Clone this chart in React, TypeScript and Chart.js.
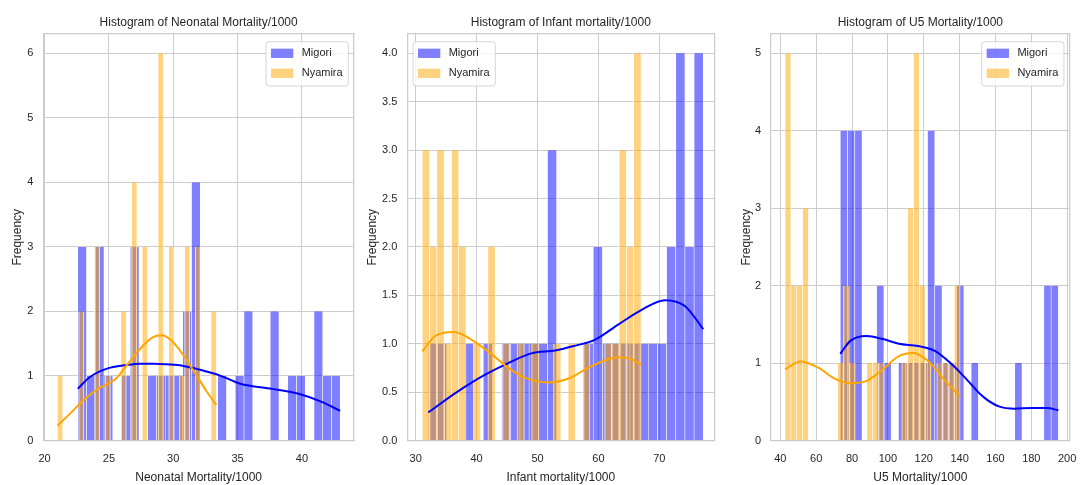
import React, { useEffect, useRef } from 'react';
import { Chart, registerables } from 'chart.js';

Chart.register(...registerables);

// ---------------- data ----------------
const seriesNames = ['Migori', 'Nyamira'];
const yAxisLabel = 'Frequency';

// Panel 1: Neonatal mortality
const neoTitle = 'Histogram of Neonatal Mortality/1000';
const neoXLabel = 'Neonatal Mortality/1000';
const neoXTicks = [20, 25, 30, 35, 40];
const neoYTicks = [0, 1, 2, 3, 4, 5, 6];
const neoMigoriRange = [22.58, 42.98];
const neoMigoriCounts = [3, 1, 3, 1, 0, 1, 3, 0, 1, 1, 1, 1, 2, 4, 0, 0, 1, 0, 1, 2, 0, 0, 2, 0, 1, 1, 0, 2, 1, 1];
const neoNyamiraRange = [21.0, 33.35];
const neoNyamiraCounts = [1, 0, 0, 0, 2, 0, 0, 3, 0, 1, 0, 0, 2, 0, 4, 0, 3, 0, 0, 6, 0, 3, 0, 1, 3, 0, 3, 0, 0, 2];
const neoMigoriKdeX = [22.58, 23.5, 24.8, 26.4, 27.4, 28.5, 29.5, 30.7, 31.8, 33.6, 35.2, 37.7, 39.8, 41.4, 42.98];
const neoMigoriKdeY = [0.8, 0.98, 1.11, 1.17, 1.19, 1.19, 1.18, 1.16, 1.11, 1.01, 0.88, 0.8, 0.72, 0.61, 0.46];
const neoNyamiraKdeX = [21.0, 22.0, 23.0, 24.06, 25.6, 26.4, 27.7, 28.4, 29.1, 29.8, 30.8, 31.8, 32.6, 33.35];
const neoNyamiraKdeY = [0.23, 0.42, 0.62, 0.79, 0.97, 1.17, 1.48, 1.6, 1.63, 1.56, 1.32, 1.01, 0.76, 0.55];

// Panel 2: Infant mortality
const infTitle = 'Histogram of Infant mortality/1000';
const infXLabel = 'Infant mortality/1000';
const infXTicks = [30, 40, 50, 60, 70];
const infYTicks = [0, 0.5, 1, 1.5, 2, 2.5, 3, 3.5, 4];
const infMigoriRange = [32.07, 77.22];
const infMigoriCounts = [1, 1, 0, 0, 1, 0, 1, 0, 1, 1, 1, 1, 1, 3, 0, 0, 0, 1, 2, 1, 1, 1, 1, 1, 1, 1, 2, 4, 2, 4];
const infNyamiraRange = [31.08, 67.0];
const infNyamiraCounts = [3, 2, 3, 1, 3, 2, 0, 1, 0, 2, 0, 1, 0, 1, 0, 1, 0, 0, 1, 0, 1, 0, 1, 0, 0, 1, 1, 3, 2, 4];
const infMigoriKdeX = [32.07, 37.0, 41.4, 45.2, 49.0, 52.9, 56.2, 59.4, 63.3, 67.1, 70.9, 74.2, 77.22];
const infMigoriKdeY = [0.29, 0.51, 0.68, 0.8, 0.9, 0.93, 0.98, 1.04, 1.2, 1.35, 1.45, 1.39, 1.15];
const infNyamiraKdeX = [31.08, 33.2, 36.2, 39.2, 42.5, 45.2, 47.9, 51.8, 55.1, 58.3, 61.6, 63.3, 65.5, 67.0];
const infNyamiraKdeY = [0.92, 1.08, 1.12, 1.04, 0.89, 0.75, 0.65, 0.6, 0.64, 0.75, 0.84, 0.86, 0.84, 0.78];

// Panel 3: U5 mortality
const u5Title = 'Histogram of U5 Mortality/1000';
const u5XLabel = 'U5 Mortality/1000';
const u5XTicks = [40, 60, 80, 100, 120, 140, 160, 180, 200];
const u5YTicks = [0, 1, 2, 3, 4, 5];
const u5MigoriRange = [73.44, 195.1];
const u5MigoriCounts = [4, 4, 4, 0, 0, 2, 1, 0, 1, 1, 1, 1, 4, 2, 1, 1, 2, 0, 1, 0, 0, 0, 0, 0, 1, 0, 0, 0, 2, 2];
const u5NyamiraRange = [42.64, 140.3];
const u5NyamiraCounts = [5, 2, 2, 3, 0, 0, 0, 0, 0, 1, 2, 1, 0, 0, 1, 1, 1, 0, 0, 0, 1, 3, 5, 2, 1, 0, 1, 1, 1, 2];
const u5MigoriKdeX = [73.44, 79.2, 88.2, 97.2, 106.1, 116.9, 125.9, 134.9, 143.9, 152.9, 161.9, 170.9, 179.9, 188.9, 195.1];
const u5MigoriKdeY = [1.12, 1.29, 1.35, 1.31, 1.25, 1.22, 1.16, 1.0, 0.79, 0.57, 0.44, 0.41, 0.42, 0.42, 0.39];
const u5NyamiraKdeX = [42.64, 51.3, 61.2, 70.2, 79.2, 88.2, 97.2, 106.1, 114.2, 122.3, 131.3, 140.3];
const u5NyamiraKdeY = [0.92, 1.02, 0.94, 0.8, 0.74, 0.77, 0.92, 1.09, 1.13, 1.03, 0.79, 0.57];

// ---------------- styles / layout ----------------
const FONT = "'Liberation Sans', Arial, Helvetica, sans-serif";
const TEXT = '#262626';
const GRID = '#cccccc';
const BAR_FILLS = ['rgba(0,0,255,0.5)', 'rgba(255,165,0,0.5)'];
const LINE_COLORS = ['#0000ff', '#ffa500'];

const panels = [
  {
    title: neoTitle, xLabel: neoXLabel, xMin: 19.9, xMax: 44.05, xTicks: neoXTicks, yMax: 6.3, yTicks: neoYTicks, yDecimals: 0,
    ranges: [neoMigoriRange, neoNyamiraRange], counts: [neoMigoriCounts, neoNyamiraCounts],
    kdeX: [neoMigoriKdeX, neoNyamiraKdeX], kdeY: [neoMigoriKdeY, neoNyamiraKdeY],
    left: 0, width: 362, yAxisWidth: 43.3, rightPad: 8, yTitlePad: 10.5, legendSide: 'right',
  },
  {
    title: infTitle, xLabel: infXLabel, xMin: 28.62, xMax: 79.03, xTicks: infXTicks, yMax: 4.2, yTicks: infYTicks, yDecimals: 1,
    ranges: [infMigoriRange, infNyamiraRange], counts: [infMigoriCounts, infNyamiraCounts],
    kdeX: [infMigoriKdeX, infNyamiraKdeX], kdeY: [infMigoriKdeY, infNyamiraKdeY],
    left: 362, width: 362, yAxisWidth: 45.3, rightPad: 9.7, yTitlePad: 3.3, legendSide: 'left',
  },
  {
    title: u5Title, xLabel: u5XLabel, xMin: 34.8, xMax: 201.4, xTicks: u5XTicks, yMax: 5.25, yTicks: u5YTicks, yDecimals: 0,
    ranges: [u5MigoriRange, u5NyamiraRange], counts: [u5MigoriCounts, u5NyamiraCounts],
    kdeX: [u5MigoriKdeX, u5NyamiraKdeX], kdeY: [u5MigoriKdeY, u5NyamiraKdeY],
    left: 724, width: 364, yAxisWidth: 47, rightPad: 8, yTitlePad: 15.3, legendSide: 'right',
  },
];

function binPoints(range: number[], counts: number[]) {
  const w = (range[1] - range[0]) / counts.length;
  return counts.map((c, i) => ({ x: range[0] + (i + 0.5) * w, y: c }));
}

function kdePoints(xs: number[], ys: number[]) {
  return xs.map((x, i) => ({ x, y: ys[i] }));
}

const insideLegend = {
  id: 'insideLegend',
  afterDraw(chart: any, _args: any, opts: any) {
    const { ctx, chartArea } = chart;
    const items = chart.data.datasets.filter((d: any) => d.type === 'bar');
    const boxW = 82.3;
    const boxH = 44.3;
    const margin = 5.7;
    const left = opts.side === 'left' ? chartArea.left + margin : chartArea.right - margin - boxW;
    const top = chartArea.top + 7.7;
    ctx.save();
    const r = 3;
    ctx.beginPath();
    ctx.moveTo(left + r, top);
    ctx.lineTo(left + boxW - r, top);
    ctx.arcTo(left + boxW, top, left + boxW, top + r, r);
    ctx.lineTo(left + boxW, top + boxH - r);
    ctx.arcTo(left + boxW, top + boxH, left + boxW - r, top + boxH, r);
    ctx.lineTo(left + r, top + boxH);
    ctx.arcTo(left, top + boxH, left, top + boxH - r, r);
    ctx.lineTo(left, top + r);
    ctx.arcTo(left, top, left + r, top, r);
    ctx.closePath();
    ctx.fillStyle = 'rgba(255,255,255,0.8)';
    ctx.fill();
    ctx.strokeStyle = 'rgba(204,204,204,0.8)';
    ctx.lineWidth = 1;
    ctx.stroke();
    items.forEach((d: any, i: number) => {
      const cy = top + 11.6 + i * 20;
      ctx.fillStyle = d.backgroundColor;
      ctx.fillRect(left + 5, cy - 4.65, 22.3, 9.3);
      ctx.fillStyle = TEXT;
      ctx.font = `11px ${FONT}`;
      ctx.textBaseline = 'middle';
      ctx.textAlign = 'left';
      ctx.fillText(d.label, left + 35.7, cy);
    });
    ctx.restore();
  },
};

function makeConfig(p: any): any {
  const xIds = ['x', 'x2'];
  const bars = [0, 1].map((k) => ({
    type: 'bar',
    label: seriesNames[k],
    data: binPoints(p.ranges[k], p.counts[k]),
    xAxisID: xIds[k],
    yAxisID: 'y',
    backgroundColor: BAR_FILLS[k],
    borderColor: 'rgba(255,255,255,0.85)',
    borderWidth: { left: 0.6, right: 0.6, top: 0, bottom: 0 },
    grouped: false,
    categoryPercentage: 1,
    barPercentage: 1,
    order: 3 - k,
  }));
  const lines = [0, 1].map((k) => ({
    type: 'line',
    label: seriesNames[k] + ' KDE',
    data: kdePoints(p.kdeX[k], p.kdeY[k]),
    xAxisID: 'x',
    yAxisID: 'y',
    borderColor: LINE_COLORS[k],
    backgroundColor: LINE_COLORS[k],
    borderWidth: 2,
    pointRadius: 0,
    fill: false,
    cubicInterpolationMode: 'monotone',
    order: 1 - k,
  }));
  const border = { display: true, color: GRID, width: 1.25, z: 1 };
  const setXTicks = (s: any) => { s.ticks = p.xTicks.map((v: number) => ({ value: v })); };
  return {
    type: 'bar',
    data: { datasets: [...bars, ...lines] },
    plugins: [insideLegend],
    options: {
      responsive: false,
      animation: false,
      events: [],
      layout: { padding: { left: 0, right: p.rightPad, top: 0, bottom: 0 } },
      plugins: {
        legend: { display: false },
        tooltip: { enabled: false },
        title: {
          display: true,
          fullSize: false,
          text: p.title,
          color: TEXT,
          font: { family: FONT, size: 12, weight: 'normal' },
          padding: { top: 15.6, bottom: 4 },
        },
        insideLegend: { side: p.legendSide },
      },
      scales: {
        x: {
          type: 'linear', position: 'bottom', min: p.xMin, max: p.xMax, offset: false,
          grid: { color: GRID, lineWidth: 1, drawTicks: false, offset: false },
          border,
          ticks: { color: TEXT, font: { family: FONT, size: 11 }, padding: 11.5, maxRotation: 0, autoSkip: false },
          title: { display: true, text: p.xLabel, color: TEXT, font: { family: FONT, size: 12 }, padding: { top: 0, bottom: 0 } },
          afterBuildTicks: setXTicks,
          afterFit: (s: any) => { s.height = 44.5; },
        },
        x2: {
          type: 'linear', position: 'top', min: p.xMin, max: p.xMax, offset: false,
          grid: { display: false, drawTicks: false, offset: false },
          border,
          ticks: { display: false },
          afterBuildTicks: setXTicks,
          afterFit: (s: any) => { s.height = 0; },
        },
        y: {
          type: 'linear', position: 'left', min: 0, max: p.yMax,
          grid: { color: GRID, lineWidth: 1, drawTicks: false },
          border,
          ticks: {
            color: TEXT, font: { family: FONT, size: 11 }, padding: 10, autoSkip: false,
            callback: (v: any) => Number(v).toFixed(p.yDecimals),
          },
          title: { display: true, text: yAxisLabel, color: TEXT, font: { family: FONT, size: 12 }, padding: { top: p.yTitlePad, bottom: 0 } },
          afterBuildTicks: (s: any) => { s.ticks = p.yTicks.map((v: number) => ({ value: v })); },
          afterFit: (s: any) => { s.width = p.yAxisWidth; },
        },
        y2: {
          type: 'linear', position: 'right', min: 0, max: 1,
          grid: { display: false, drawTicks: false },
          border,
          ticks: { display: false },
          afterFit: (s: any) => { s.width = 0; },
        },
      },
    },
  };
}

function Panel({ p }: { p: any }) {
  const ref = useRef<HTMLCanvasElement | null>(null);
  useEffect(() => {
    if (!ref.current) return;
    const chart = new Chart(ref.current, makeConfig(p));
    return () => chart.destroy();
  }, [p]);
  return (
    <canvas
      ref={ref}
      width={p.width}
      height={485}
      style={{ position: 'absolute', left: p.left, top: 0, width: p.width, height: 485 }}
    />
  );
}

export default function App() {
  return (
    <div style={{ position: 'absolute', left: 0, top: 0, width: 1088, height: 485, background: '#ffffff', overflow: 'hidden' }}>
      {panels.map((p, i) => (
        <Panel key={i} p={p} />
      ))}
    </div>
  );
}
